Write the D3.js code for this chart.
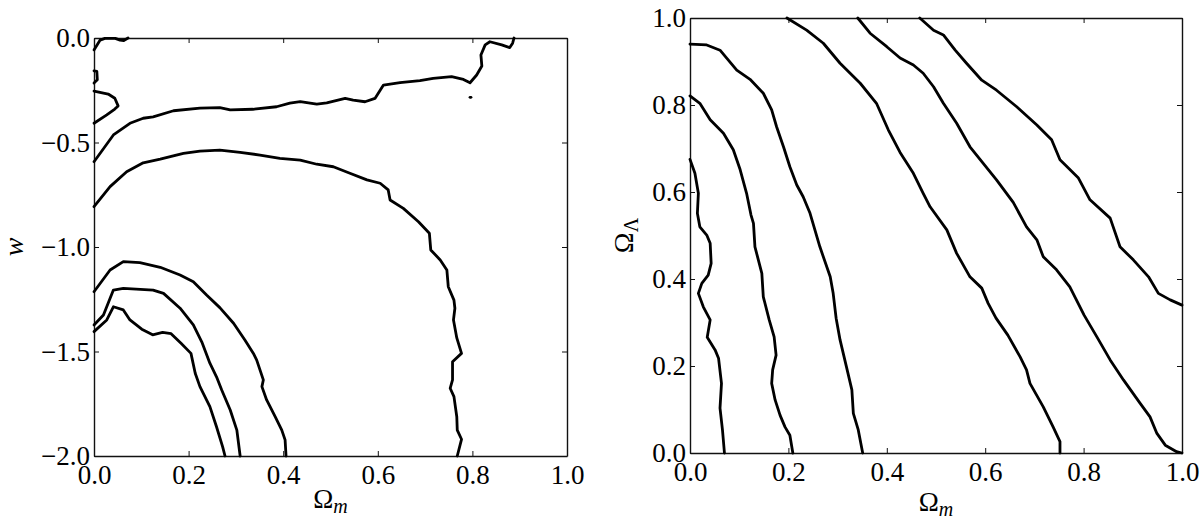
<!DOCTYPE html>
<html>
<head>
<meta charset="utf-8">
<script src="https://cdn.jsdelivr.net/npm/d3@7"></script>
<style>
    body { margin: 0; background: #fff; }
    svg { display: block; }
</style>
</head>
<body>
<svg id="chart" width="1200" height="521"></svg>
<script>
// tick values
let leftXTicks = [0, 0.2, 0.4, 0.6, 0.8, 1.0];
let leftYTicks = [0, -0.5, -1.0, -1.5, -2.0];
let rightXTicks = [0, 0.2, 0.4, 0.6, 0.8, 1.0];
let rightYTicks = [0, 0.2, 0.4, 0.6, 0.8, 1.0];

// left panel contours, [Omega_m, w]
let wTopCorner = [[0, -0.057], [0.013, -0.010], [0.023, -0.002], [0.045, -0.002], [0.055, -0.010],
    [0.063, -0.012], [0.072, 0]];
let wTinyBox = [[0, -0.157], [0.006, -0.160], [0.007, -0.200], [0, -0.215]];
let wSmallLoop = [[0, -0.254], [0.030, -0.268], [0.044, -0.288], [0.051, -0.325], [0.044, -0.340],
    [0.027, -0.368], [0, -0.408]];
let wUpper = [[0, -0.592], [0.041, -0.464], [0.076, -0.408], [0.104, -0.384], [0.125, -0.377],
    [0.168, -0.348], [0.224, -0.336], [0.266, -0.333], [0.288, -0.344], [0.336, -0.341],
    [0.386, -0.329], [0.414, -0.312], [0.436, -0.304], [0.471, -0.316], [0.492, -0.310],
    [0.531, -0.289], [0.548, -0.297], [0.573, -0.305], [0.594, -0.289], [0.612, -0.225],
    [0.647, -0.214], [0.689, -0.204], [0.717, -0.193], [0.756, -0.185], [0.781, -0.198],
    [0.795, -0.214], [0.809, -0.177], [0.820, -0.134], [0.818, -0.081], [0.827, -0.033],
    [0.837, -0.018], [0.862, -0.033], [0.879, -0.046], [0.885, -0.025], [0.888, 0]];
let wSpeck = [[0.795, -0.284], [0.797, -0.284]];
let wOuterArc = [[0, -0.807], [0.034, -0.711], [0.069, -0.640], [0.104, -0.597], [0.140, -0.580],
    [0.189, -0.552], [0.224, -0.541], [0.266, -0.536], [0.309, -0.547], [0.351, -0.560],
    [0.393, -0.576], [0.436, -0.584], [0.471, -0.604], [0.506, -0.616], [0.541, -0.647],
    [0.577, -0.679], [0.605, -0.695], [0.622, -0.727], [0.626, -0.775], [0.654, -0.815],
    [0.686, -0.879], [0.709, -0.934], [0.712, -1.014], [0.732, -1.062], [0.746, -1.110],
    [0.749, -1.190], [0.761, -1.254], [0.763, -1.293], [0.760, -1.349], [0.767, -1.435],
    [0.777, -1.509], [0.758, -1.549], [0.758, -1.636], [0.753, -1.676], [0.761, -1.716],
    [0.767, -1.812], [0.768, -1.876], [0.777, -1.920], [0.768, -2.0]];
let wLowArc1 = [[0, -1.214], [0.034, -1.110], [0.062, -1.070], [0.097, -1.075], [0.140, -1.097],
    [0.182, -1.134], [0.210, -1.166], [0.238, -1.230], [0.266, -1.290], [0.295, -1.365],
    [0.319, -1.445], [0.337, -1.509], [0.344, -1.541], [0.358, -1.636], [0.355, -1.668],
    [0.365, -1.732], [0.383, -1.812], [0.397, -1.876], [0.404, -1.923], [0.406, -2.0]];
let wLowArc2 = [[0, -1.373], [0.020, -1.325], [0.041, -1.206], [0.062, -1.198], [0.125, -1.206],
    [0.147, -1.222], [0.182, -1.293], [0.210, -1.373], [0.228, -1.455], [0.245, -1.556],
    [0.259, -1.621], [0.270, -1.684], [0.288, -1.780], [0.302, -1.876], [0.309, -2.0]];
let wLowArc3 = [[0, -1.405], [0.027, -1.349], [0.041, -1.286], [0.062, -1.301], [0.076, -1.349],
    [0.101, -1.393], [0.124, -1.420], [0.145, -1.409], [0.163, -1.415], [0.184, -1.461],
    [0.205, -1.509], [0.214, -1.604], [0.224, -1.668], [0.245, -1.764], [0.259, -1.860],
    [0.272, -1.956], [0.277, -2.0]];

// right panel contours, [Omega_m, Omega_Lambda]
let lamLine1 = [[0, 0.675], [0.010, 0.643], [0.017, 0.597], [0.015, 0.551], [0.020, 0.520],
    [0.034, 0.501], [0.041, 0.482], [0.043, 0.436], [0.037, 0.409], [0.024, 0.390],
    [0.017, 0.367], [0.027, 0.336], [0.041, 0.306], [0.035, 0.266], [0.051, 0.237],
    [0.058, 0.218], [0.064, 0.160], [0.061, 0.103], [0.066, 0.053], [0.070, 0]];
let lamLine2 = [[0, 0.821], [0.020, 0.804], [0.041, 0.766], [0.068, 0.735], [0.088, 0.697],
    [0.102, 0.651], [0.115, 0.597], [0.124, 0.547], [0.129, 0.528], [0.132, 0.474],
    [0.146, 0.413], [0.149, 0.359], [0.161, 0.306], [0.171, 0.267], [0.175, 0.225],
    [0.168, 0.191], [0.166, 0.160], [0.173, 0.122], [0.183, 0.087], [0.193, 0.060],
    [0.203, 0.041], [0.209, 0]];
let lamLine3 = [[0, 0.940], [0.034, 0.938], [0.061, 0.926], [0.075, 0.907], [0.095, 0.880],
    [0.122, 0.859], [0.149, 0.827], [0.166, 0.789], [0.176, 0.750], [0.190, 0.704],
    [0.203, 0.658], [0.217, 0.616], [0.230, 0.589], [0.244, 0.551], [0.264, 0.474],
    [0.285, 0.405], [0.291, 0.367], [0.297, 0.310], [0.305, 0.260], [0.318, 0.198],
    [0.329, 0.145], [0.332, 0.091], [0.342, 0.053], [0.351, 0]];
let lamLine4 = [[0.197, 1.0], [0.237, 0.972], [0.271, 0.942], [0.305, 0.896], [0.346, 0.850],
    [0.379, 0.804], [0.403, 0.743], [0.427, 0.691], [0.454, 0.643], [0.474, 0.597],
    [0.488, 0.566], [0.522, 0.513], [0.542, 0.459], [0.569, 0.405], [0.593, 0.379],
    [0.606, 0.344], [0.622, 0.310], [0.646, 0.271], [0.671, 0.221], [0.684, 0.191],
    [0.691, 0.160], [0.718, 0.106], [0.738, 0.060], [0.752, 0.026], [0.752, 0]];
let lamLine5 = [[0.341, 1.0], [0.366, 0.965], [0.400, 0.934], [0.427, 0.908], [0.454, 0.892],
    [0.474, 0.873], [0.495, 0.842], [0.515, 0.804], [0.542, 0.758], [0.569, 0.704],
    [0.596, 0.666], [0.623, 0.628], [0.657, 0.576], [0.684, 0.520], [0.705, 0.490],
    [0.718, 0.451], [0.745, 0.421], [0.772, 0.382], [0.801, 0.317], [0.827, 0.267],
    [0.854, 0.214], [0.881, 0.168], [0.915, 0.114], [0.935, 0.083], [0.949, 0.045],
    [0.966, 0.018], [0.989, 0.003], [1.0, 0]];
let lamLine6 = [[0.467, 1.0], [0.495, 0.972], [0.515, 0.961], [0.539, 0.926], [0.562, 0.896],
    [0.593, 0.857], [0.623, 0.834], [0.664, 0.796], [0.705, 0.754], [0.735, 0.720],
    [0.752, 0.674], [0.789, 0.633], [0.813, 0.582], [0.854, 0.540], [0.874, 0.474],
    [0.901, 0.444], [0.932, 0.405], [0.952, 0.367], [0.976, 0.352], [1.0, 0.340]];

let leftContours = [wTopCorner, wTinyBox, wSmallLoop, wUpper, wSpeck, wOuterArc, wLowArc1, wLowArc2, wLowArc3];
let rightContours = [lamLine1, lamLine2, lamLine3, lamLine4, lamLine5, lamLine6];

let svg = d3.select("#chart");
let serif = '"Liberation Serif"';

function drawPanel(p) {
    let x = d3.scaleLinear().domain([0, 1]).range([p.left, p.right]);
    let y = d3.scaleLinear().domain(p.yDomain).range([p.bottom, p.top]);
    let fmt = d3.format(".1f");

    // axes on all four sides, ticks pointing inward
    let bottomAxis = svg.append("g")
        .attr("transform", "translate(0," + p.bottom + ")")
        .call(d3.axisBottom(x).tickValues(p.xTicks).tickSize(-5).tickSizeOuter(0).tickPadding(9).tickFormat(fmt));
    let leftAxis = svg.append("g")
        .attr("transform", "translate(" + p.left + ",0)")
        .call(d3.axisLeft(y).tickValues(p.yTicks).tickSize(-5).tickSizeOuter(0).tickPadding(4).tickFormat(fmt));
    let topAxis = svg.append("g")
        .attr("transform", "translate(0," + p.top + ")")
        .call(d3.axisTop(x).tickValues(p.xTicks).tickSize(-5).tickSizeOuter(0).tickFormat(""));
    let rightAxis = svg.append("g")
        .attr("transform", "translate(" + p.right + ",0)")
        .call(d3.axisRight(y).tickValues(p.yTicks).tickSize(-5).tickSizeOuter(0).tickFormat(""));

    [bottomAxis, leftAxis, topAxis, rightAxis].forEach(function (a) {
        a.attr("font-family", serif).attr("font-size", 27);
        a.selectAll(".tick text")
            .style("font-family", serif)
            .style("font-size", "27px")
            .attr("fill", "#000");
        a.select(".domain").attr("stroke", "#111").attr("stroke-width", 1.4);
        a.selectAll(".tick line").attr("stroke", "#111").attr("stroke-width", 1);
    });

    let line = d3.line()
        .x(function (d) { return x(d[0]); })
        .y(function (d) { return y(d[1]); });

    svg.append("g")
        .selectAll("path")
        .data(p.contours)
        .enter()
        .append("path")
        .attr("d", line)
        .attr("fill", "none")
        .attr("stroke", "#000")
        .attr("stroke-width", 2.8)
        .attr("stroke-linejoin", "round")
        .attr("stroke-linecap", "round");

    // x label  Omega_m
    let xl = svg.append("text")
        .attr("x", (p.left + p.right) / 2)
        .attr("y", p.xLabelY)
        .attr("text-anchor", "middle")
        .style("font-family", serif)
        .style("font-size", "27px");
    xl.append("tspan").text("\u03A9");
    xl.append("tspan").style("font-style", "italic").style("font-size", "20px").attr("dy", 5).text("m");

    // y label
    let yl = svg.append("text")
        .attr("transform", "translate(" + p.yLabelX + "," + (p.top + p.bottom) / 2 + ") rotate(-90)")
        .attr("text-anchor", "middle")
        .style("font-family", serif)
        .style("font-size", "28px");
    if (p.yLabelSub) {
        yl.append("tspan").text(p.yLabel);
        yl.append("tspan").style("font-size", "20px").attr("dy", 5).text(p.yLabelSub);
    } else {
        yl.append("tspan").style("font-style", "italic").text(p.yLabel);
    }
}

drawPanel({
    left: 94, right: 567, top: 38, bottom: 456,
    yDomain: [-2, 0], xTicks: leftXTicks, yTicks: leftYTicks,
    contours: leftContours, xLabelY: 508, yLabelX: 23, yLabel: "w"
});

drawPanel({
    left: 690, right: 1182, top: 18, bottom: 453,
    yDomain: [0, 1], xTicks: rightXTicks, yTicks: rightYTicks,
    contours: rightContours, xLabelY: 511, yLabelX: 633, yLabel: "\u03A9", yLabelSub: "\u039B"
});
</script>
</body>
</html>
